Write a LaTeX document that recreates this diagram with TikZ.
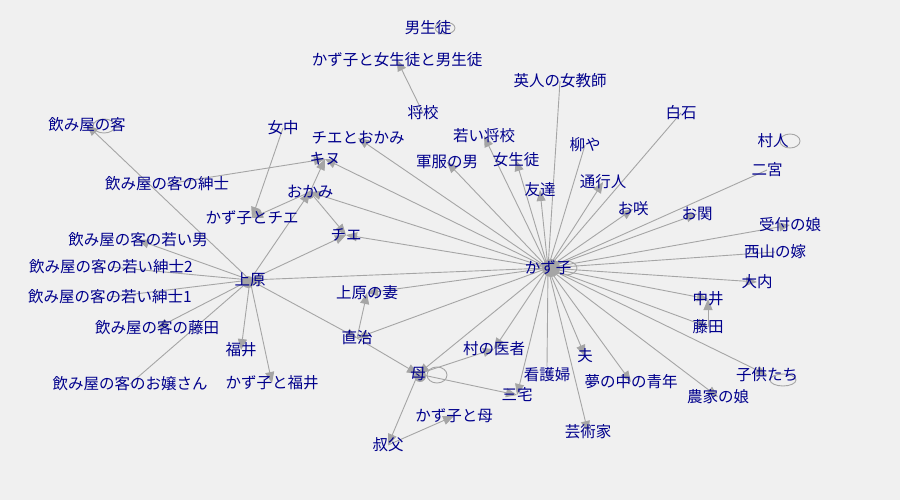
\documentclass[tikz,border=0pt]{standalone}
\usepackage{fontspec}
\setmainfont{Noto Sans CJK JP}
\usetikzlibrary{arrows.meta}
\definecolor{bgc}{RGB}{240,240,240}
\definecolor{edgec}{RGB}{165,165,165}
\definecolor{labc}{RGB}{0,0,140}
\pgfdeclarelayer{bg}
\pgfdeclarelayer{edges}
\pgfsetlayers{bg,edges,main}
\begin{document}
\begin{tikzpicture}[x=1pt,y=-1pt,
  lab/.style={text=labc,inner sep=1pt,font=\fontsize{15.5}{16}\selectfont},
  edge/.style={draw=edgec,line width=0.9pt},
  arr/.style={edge,-{Triangle[length=11pt,width=9pt,fill=edgec]}},
  blob/.style={fill=edgec}]
\begin{pgfonlayer}{bg}
\fill[bgc] (0,0) rectangle (900,500);
\end{pgfonlayer}
\useasboundingbox (0,0) rectangle (900,500);
% nodes
\node[lab] (K) at (548,268) {かず子};
\node[lab] (uehara) at (250,280) {上原};
\node[lab] (haha) at (418,374) {母};
\node[lab] (naoji) at (357,338) {直治};
\node[lab] (tsuma) at (367,293) {上原の妻};
\node[lab] (okami) at (310,192) {おかみ};
\node[lab] (kinu) at (325,159) {キヌ};
\node[lab] (chie) at (346,235) {チエ};
\node[lab] (chieokami) at (358,138) {チエとおかみ};
\node[lab] (kchie) at (252,218) {かず子とチエ};
\node[lab] (jochu) at (283,128) {女中};
\node[lab] (nkyaku) at (87,125) {飲み屋の客};
\node[lab] (shinshi) at (167,184) {飲み屋の客の紳士};
\node[lab] (wakaiotoko) at (138,240) {飲み屋の客の若い男};
\node[lab] (shinshi2) at (111,267) {飲み屋の客の若い紳士2};
\node[lab] (shinshi1) at (110,297) {飲み屋の客の若い紳士1};
\node[lab] (nfujita) at (157,328) {飲み屋の客の藤田};
\node[lab] (ojosan) at (130,384) {飲み屋の客のお嬢さん};
\node[lab] (fukui) at (241,350) {福井};
\node[lab] (kfukui) at (272,383) {かず子と福井};
\node[lab] (danseito) at (428,28) {男生徒};
\node[lab] (kjm) at (397,60) {かず子と女生徒と男生徒};
\node[lab] (shoko) at (423,113) {将校};
\node[lab] (eijin) at (560,81) {英人の女教師};
\node[lab] (shiraishi) at (681,113) {白石};
\node[lab] (wakaishoko) at (484,136) {若い将校};
\node[lab] (yanagiya) at (585,145) {柳や};
\node[lab] (murabito) at (773,141) {村人};
\node[lab] (gunpuku) at (447,162) {軍服の男};
\node[lab] (joseito) at (516,160) {女生徒};
\node[lab] (ninomiya) at (767,170) {二宮};
\node[lab] (tsukonin) at (603,182) {通行人};
\node[lab] (tomodachi) at (540,190) {友達};
\node[lab] (osaki) at (633,209) {お咲};
\node[lab] (oseki) at (697,214) {お関};
\node[lab] (uketsuke) at (790,225) {受付の娘};
\node[lab] (nishiyama) at (775,252) {西山の嫁};
\node[lab] (ouchi) at (757,282) {大内};
\node[lab] (nakai) at (708,299) {中井};
\node[lab] (fujita) at (708,327) {藤田};
\node[lab] (isha) at (494,349) {村の医者};
\node[lab] (otto) at (585,356) {夫};
\node[lab] (kango) at (547,375) {看護婦};
\node[lab] (kodomo) at (767,375) {子供たち};
\node[lab] (yume) at (631,382) {夢の中の青年};
\node[lab] (noka) at (718,397) {農家の娘};
\node[lab] (miyake) at (517,395) {三宅};
\node[lab] (khaha) at (454,416) {かず子と母};
\node[lab] (geijutsu) at (588,432) {芸術家};
\node[lab] (oji) at (388,445) {叔父};
\begin{pgfonlayer}{edges}
% blobs
\fill[blob] ([xshift=3pt]K.center) circle (9pt);
\fill[blob] ([xshift=-2pt,yshift=-2pt]uehara.center) circle (6pt);
\fill[blob] ([xshift=2pt,yshift=-2pt]haha.center) circle (6pt);
\fill[blob] ([yshift=-3pt]okami.center) circle (4pt);
% self loops
\draw[edge] ([xshift=18pt]K.center) ellipse [x radius=11pt,y radius=7pt];
\draw[edge] ([xshift=19pt,yshift=-1pt]haha.center) ellipse [x radius=10pt,y radius=8pt];
\draw[edge] ([xshift=16pt,yshift=-5pt]kodomo.center) ellipse [x radius=13pt,y radius=6pt];
\draw[edge] ([xshift=17pt,yshift=-1pt]nkyaku.center) ellipse [x radius=11pt,y radius=7pt];
\draw[edge] ([xshift=17pt]murabito.center) ellipse [x radius=10pt,y radius=7pt];
\draw[edge] ([xshift=17pt]danseito.center) ellipse [x radius=10pt,y radius=6pt];
% edges from K
\foreach \t in {chieokami,kinu,okami,chie,uehara,tsuma,naoji,haha,isha,miyake,geijutsu,otto,yume,noka,kodomo,fujita,nakai,ouchi,uketsuke,oseki,osaki,tsukonin,tomodachi,joseito,wakaishoko,gunpuku}
  \draw[arr] (K.center) -- (\t.center);
\foreach \s in {ninomiya,shiraishi,yanagiya,eijin,nishiyama}
  \draw[edge] (\s.center) -- (K.center);
\draw[edge] (kango.north) -- (K.center);
% other edges
\draw[arr] (uehara.center) -- (naoji.center);
\draw[arr] (naoji.center) -- (tsuma.center);
\draw[arr] (naoji.center) -- (haha.center);
\draw[arr] (haha.center) -- (oji.center);
\draw[arr] (oji.center) -- (khaha.center);
\draw[arr] (haha.center) -- (isha.center);
\draw[arr] (haha.center) -- (miyake.center);
\foreach \t in {nkyaku,wakaiotoko,nfujita,fukui,kfukui,okami,chie}
  \draw[arr] (uehara.center) -- (\t.center);
\foreach \s in {shinshi2,shinshi1,ojosan}
  \draw[edge] (\s.center) -- (uehara.center);
\draw[arr] (okami.center) -- (chie.center);
\draw[arr] (okami.center) -- (kinu.center);
\draw[arr] (okami.center) -- (kchie.center);
\draw[arr] (jochu.center) -- (kchie.center);
\draw[arr] (shinshi.center) -- (kinu.center);
\draw[arr] (shoko.center) -- (kjm.center);
\draw[arr] (fujita.center) -- (nakai.center);
\end{pgfonlayer}
\end{tikzpicture}
\end{document}
